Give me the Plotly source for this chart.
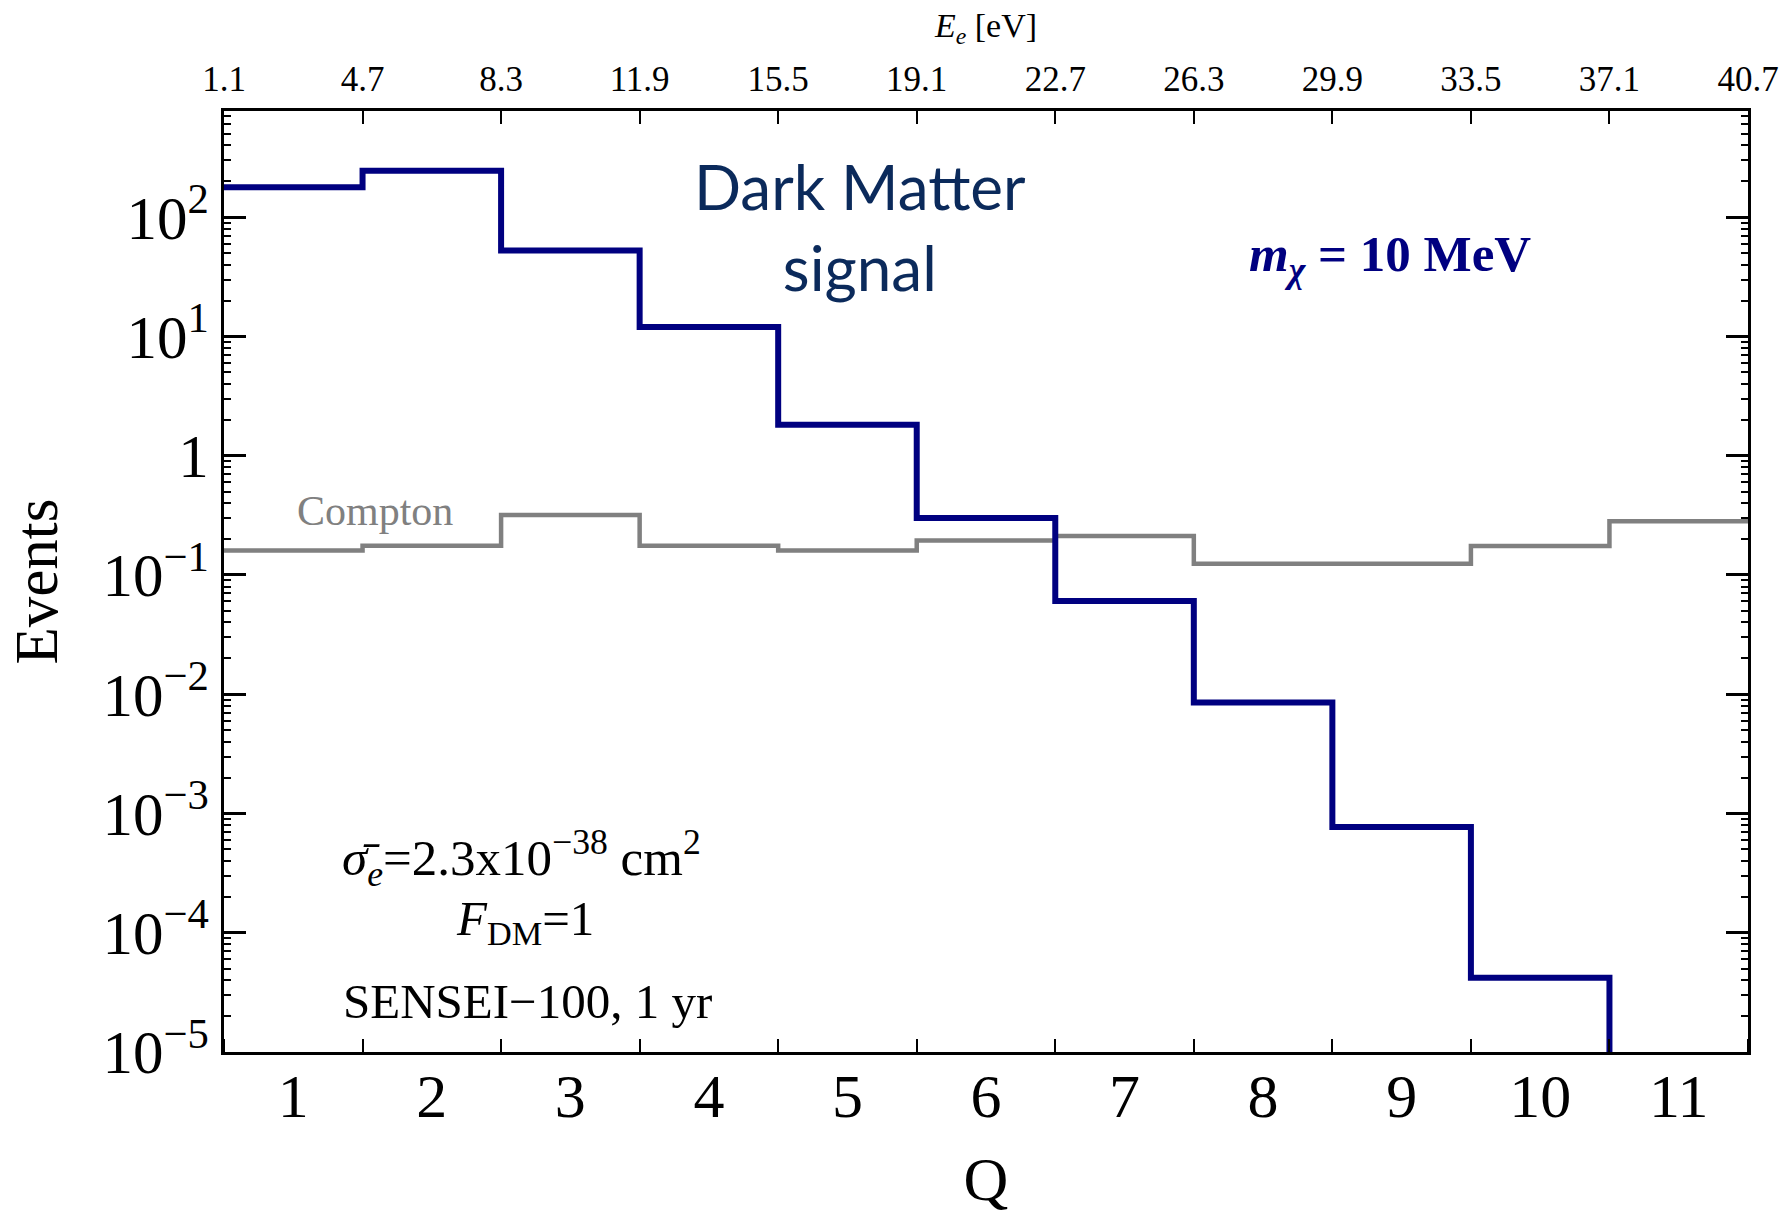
import plotly.graph_objects as go

# ---------------- data ----------------
q_bins = [1, 2, 3, 4, 5, 6, 7, 8, 9, 10, 11]
bin_edges = [0.5, 1.5, 2.5, 3.5, 4.5, 5.5, 6.5, 7.5, 8.5, 9.5, 10.5, 11.5]
dm_events = [178, 245, 52.5, 12.0, 1.82, 0.30, 0.0605, 0.0085, 7.7e-4, 4.2e-5, 2e-6]
compton_events = [0.16, 0.176, 0.318, 0.176, 0.16, 0.194, 0.212, 0.124, 0.124, 0.175, 0.282]
ee_tick_labels = ["1.1", "4.7", "8.3", "11.9", "15.5", "19.1", "22.7",
                  "26.3", "29.9", "33.5", "37.1", "40.7"]
y_tick_vals = [1e-5, 1e-4, 1e-3, 1e-2, 1e-1, 1, 10, 100]
y_tick_labels = ["10<sup>−5</sup>", "10<sup>−4</sup>", "10<sup>−3</sup>", "10<sup>−2</sup>",
                 "10<sup>−1</sup>", "1", "10<sup>1</sup>", "10<sup>2</sup>"]

SERIF = "Liberation Serif, Times New Roman, serif"
NAVY = "#000080"
GRAY = "#808080"

minor_y = [m * 10 ** e for e in range(-5, 3) for m in range(2, 10)]
minor_y = [v for v in minor_y if v < 790]

fig = go.Figure()

# step histograms drawn from the bin values
fig.add_trace(go.Scatter(
    x=bin_edges, y=compton_events + [compton_events[-1]],
    mode="lines", line=dict(color=GRAY, width=4.5, shape="hv"),
    showlegend=False, hoverinfo="skip"))
fig.add_trace(go.Scatter(
    x=bin_edges, y=dm_events + [dm_events[-1]],
    mode="lines", line=dict(color=NAVY, width=6, shape="hv"),
    showlegend=False, hoverinfo="skip"))
# invisible trace to carry the top (energy) axis
fig.add_trace(go.Scatter(
    x=[bin_edges[0], bin_edges[-1]], y=[None, None], xaxis="x2",
    mode="lines", showlegend=False, hoverinfo="skip"))

fig.update_layout(
    width=1779, height=1213,
    margin=dict(l=224, r=31, t=111, b=161, autoexpand=False),
    plot_bgcolor="white", paper_bgcolor="white",
    font=dict(family=SERIF, color="black"),
    xaxis=dict(
        range=[0.5, 11.5], tickmode="array", tickvals=q_bins,
        ticktext=[str(q) for q in q_bins], ticks="",
        tickfont=dict(size=62, family=SERIF), ticklabelstandoff=-12,
        showline=True, linecolor="black", linewidth=3, mirror=True,
        showgrid=False, zeroline=False, automargin=False,
        minor=dict(tickvals=bin_edges, ticks="inside", ticklen=13,
                   tickwidth=2, tickcolor="black", showgrid=False),
        title=dict(text="Q", font=dict(size=62, family=SERIF), standoff=34),
    ),
    xaxis2=dict(
        overlaying="x", side="top", anchor="y",
        range=[0.5, 11.5], tickmode="array", tickvals=bin_edges,
        ticktext=ee_tick_labels, ticks="inside", ticklen=13, tickwidth=2,
        tickcolor="black", tickfont=dict(size=35, family=SERIF),
        ticklabelstandoff=12, ticklabeloverflow="allow", automargin=False,
        showgrid=False, zeroline=False, showline=False,
        title=dict(text="<i>E<sub>e</sub></i> [eV]",
                   font=dict(size=34, family=SERIF), standoff=12),
    ),
    yaxis=dict(
        type="log", range=[-5, 2.89], tickmode="array",
        tickvals=y_tick_vals, ticktext=y_tick_labels,
        ticks="inside", ticklen=22, tickwidth=3, tickcolor="black",
        tickfont=dict(size=61, family=SERIF), automargin=False,
        showline=True, linecolor="black", linewidth=3, mirror="ticks",
        showgrid=False, zeroline=False,
        minor=dict(tickvals=minor_y, ticks="inside", ticklen=7,
                   tickwidth=2, tickcolor="black", showgrid=False),
        title=dict(text="Events", font=dict(size=61, family=SERIF), standoff=26),
    ),
)

annotations = [
    dict(text="Dark Matter<br>signal", x=0.417, y=0.877,
         font=dict(family="Lato, sans-serif", size=62, color="#0b2a5b")),
    dict(text="<b><i>m</i><sub><i>χ</i></sub> = 10 MeV</b>", x=0.765, y=0.844,
         font=dict(family=SERIF, size=51, color=NAVY)),
    dict(text="Compton", x=0.0994, y=0.5745,
         font=dict(family=SERIF, size=42, color=GRAY)),
    dict(text="<i>σ̄</i><sub><i>e</i></sub>=2.3x10<sup>−38</sup> cm<sup>2</sup>",
         x=0.1955, y=0.206, font=dict(family=SERIF, size=51, color="black")),
    dict(text="<i>F</i><sub>DM</sub>=1", x=0.1975, y=0.139,
         font=dict(family=SERIF, size=49, color="black")),
    dict(text="SENSEI−100, 1 yr", x=0.199, y=0.054,
         font=dict(family=SERIF, size=49, color="black")),
]
for a in annotations:
    fig.add_annotation(xref="paper", yref="paper", showarrow=False,
                       xanchor="center", yanchor="middle", **a)

fig.write_html("out.html")
